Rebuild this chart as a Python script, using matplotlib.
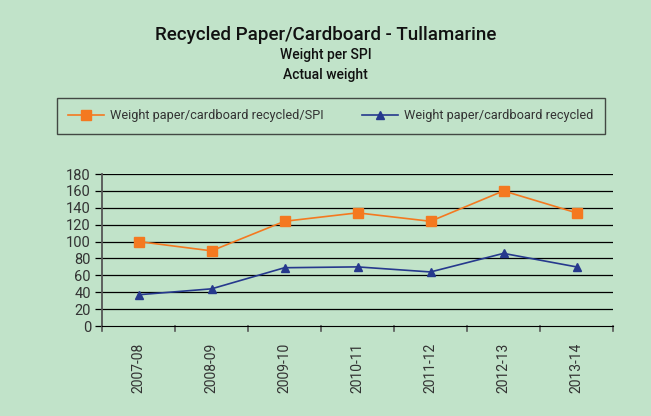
import matplotlib
matplotlib.use("Agg")
import matplotlib.pyplot as plt
import numpy as np

# --- Data ---
years = ["2007-08", "2008-09", "2009-10", "2010-11", "2011-12", "2012-13", "2013-14"]
per_spi = [100, 89, 124, 134, 124, 160, 134]
recycled = [37, 44, 69, 70, 64, 86, 70]
yticks = [0, 20, 40, 60, 80, 100, 120, 140, 160, 180]

BG = "#c1e3c9"
ORANGE = "#f47920"
BLUE = "#26398d"
TEXT = "#333333"

plt.rcParams["font.family"] = ["Roboto", "DejaVu Sans"]

fig = plt.figure(figsize=(6.51, 4.16), dpi=100)
fig.patch.set_facecolor(BG)
ax = fig.add_axes([102 / 651, 1 - 326 / 416, 511 / 651, 152 / 416])
ax.set_facecolor(BG)

x = np.arange(len(years)) + 0.5
l1, = ax.plot(x, per_spi, color=ORANGE, lw=1.2, marker="s", markersize=7,
              label="Weight paper/cardboard recycled/SPI", zorder=3)
l2, = ax.plot(x, recycled, color=BLUE, lw=1.2, marker="^", markersize=6,
              label="Weight paper/cardboard recycled", zorder=3)

ax.set_xlim(0, len(years))
ax.set_ylim(0, 180)
ax.set_yticks(yticks)
ax.set_yticklabels([str(v) for v in yticks], color=TEXT, fontsize=10.5)
for v in yticks[1:]:
    ax.axhline(v, color="black", lw=0.9, zorder=1)

ax.set_xticks(np.arange(len(years) + 1))
ax.set_xticklabels([])
ax.set_xticks(x, minor=True)
ax.set_xticklabels(years, minor=True, rotation=90, color=TEXT, fontsize=10,
                   va="top")
ax.tick_params(axis="x", which="minor", length=0, pad=12)
ax.tick_params(axis="x", which="major", direction="in", length=0)
ax.tick_params(axis="y", direction="out", length=5, width=0.9, color="black", pad=3)

# category separators hanging below the axis
for i in range(len(years) + 1):
    ax.plot([i, i], [0, -6], color="#555555", lw=1.2, clip_on=False)

for s in ["top", "right"]:
    ax.spines[s].set_visible(False)
ax.spines["bottom"].set_color("black")
ax.spines["left"].set_color("#555555")
ax.spines["left"].set_linewidth(1.3)

fig.text(0.5, 1 - 35 / 416, "Recycled Paper/Cardboard - Tullamarine",
         ha="center", va="center", fontsize=13.5, color="#111111", fontweight="medium")
fig.text(0.5, 1 - 55 / 416, "Weight per SPI", ha="center", va="center",
         fontsize=10, color="#111111", fontweight="medium")
fig.text(0.5, 1 - 75 / 416, "Actual weight", ha="center", va="center",
         fontsize=10, color="#111111", fontweight="medium")

leg = fig.legend(handles=[l1, l2], loc="center",
                 bbox_to_anchor=(331 / 651, 1 - 116 / 416), ncol=2,
                 frameon=True, fancybox=False, fontsize=9.2, labelcolor=TEXT,
                 columnspacing=3.0, handlelength=2.8, handletextpad=0.5,
                 borderpad=0.9)
leg.get_frame().set_facecolor(BG)
leg.get_frame().set_edgecolor("#222222")
leg.get_frame().set_linewidth(1.0)

fig.savefig("out.png", dpi=100, facecolor=BG)
